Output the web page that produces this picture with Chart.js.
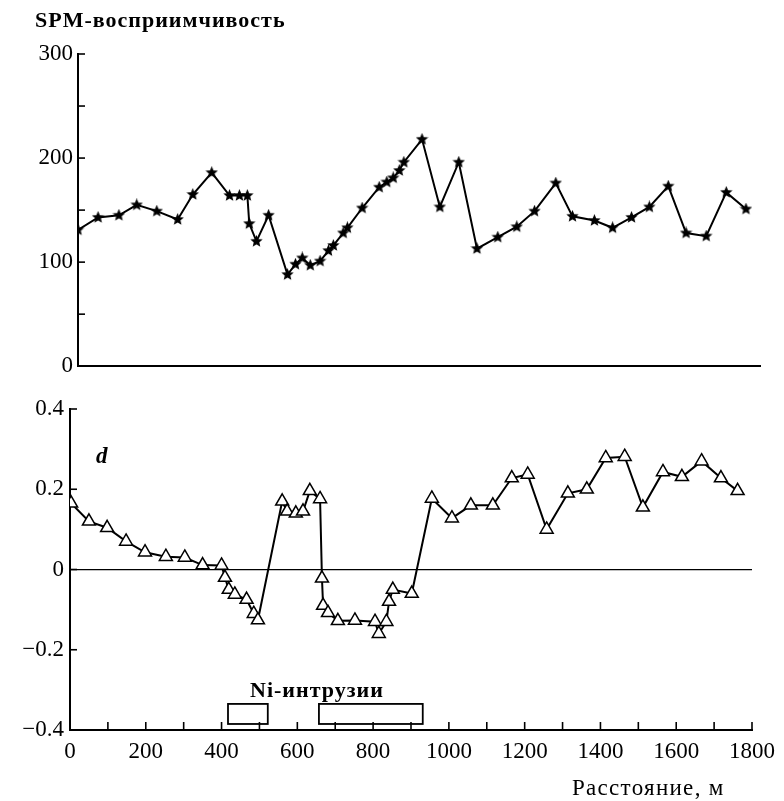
<!DOCTYPE html>
<html>
<head>
<meta charset="utf-8">
<script src="https://cdn.jsdelivr.net/npm/chart.js@4.4.1/dist/chart.umd.min.js"></script>
<style>
body { margin: 0; background: #fff; width: 784px; height: 801px; position: relative; overflow: hidden; font-family: "Liberation Serif", serif; }
#topWrap { position: absolute; left: 0; top: 0; width: 784px; height: 385px; }
#botWrap { position: absolute; left: 0; top: 385px; width: 784px; height: 416px; }
.lbl { position: absolute; color: #000; white-space: nowrap; line-height: 1; }
</style>
</head>
<body>
<div id="topWrap"><canvas id="spmChart" width="784" height="385"></canvas></div>
<div id="botWrap"><canvas id="dChart" width="784" height="416"></canvas></div>

<div class="lbl" style="left:35px; top:9px; font-size:22px; font-weight:bold; letter-spacing:1px;">SPM-восприимчивость</div>
<div class="lbl" style="left:96px; top:444px; font-size:23px; font-weight:bold; font-style:italic;">d</div>
<div class="lbl" style="left:250px; top:679px; font-size:22px; font-weight:bold; letter-spacing:1px;">Ni-интрузии</div>
<div class="lbl" style="left:572px; top:776px; font-size:23px; letter-spacing:1.3px;">Расстояние, м</div>

<script>
document.addEventListener("DOMContentLoaded", () => {

/* DATA */

const spmDist = [0, 53, 108, 155, 208, 263, 303, 353, 400, 426, 447, 452, 471, 503, 553, 574, 592, 613, 639, 661,
    674, 700, 711, 750, 795, 815, 832, 848, 860, 908, 955, 1005, 1053, 1108, 1158, 1205, 1261, 1305, 1363, 1411,
    1461, 1508, 1558, 1605, 1658, 1711, 1763];
const spmValue = [131, 143, 145, 155, 149, 141, 165, 186, 164, 164, 164, 137, 120, 145, 88, 98, 104, 97, 101, 111,
    116, 128, 133, 152, 172, 177, 181, 188, 196, 218, 153, 196, 113, 124, 134, 149, 176, 144, 140, 133,
    143, 153, 173, 128, 125, 167, 151];

const dDist = [3, 50, 98, 148, 198, 253, 303, 350, 400, 409, 419, 435, 466, 485, 496, 560, 573, 596, 615, 633,
    660, 665, 668, 681, 707, 752, 805, 815, 835, 842, 852, 902, 955, 1008, 1058, 1116, 1166, 1208, 1258, 1314,
    1364, 1414, 1464, 1512, 1565, 1615, 1667, 1718, 1762];
const dValue = [0.165, 0.12, 0.104, 0.07, 0.043, 0.032, 0.03, 0.011, 0.01, -0.02, -0.05, -0.062, -0.075, -0.11, -0.126, 0.17, 0.145, 0.14, 0.145, 0.196,
    0.176, -0.022, -0.09, -0.108, -0.128, -0.127, -0.13, -0.16, -0.13, -0.08, -0.05, -0.06, 0.177, 0.128, 0.16, 0.16, 0.228, 0.237, 0.10, 0.19,
    0.2, 0.278, 0.281, 0.155, 0.243, 0.231, 0.27, 0.228, 0.196];

/* Ni intrusions, metres along the profile */
const niStart = [417, 657];
const niEnd = [522, 931];

const spmTicks = [0, 100, 200, 300];
const dTicks = [-0.4, -0.2, 0, 0.2, 0.4];
const distTicks = [0, 200, 400, 600, 800, 1000, 1200, 1400, 1600, 1800];

Chart.defaults.font.family = '"Liberation Serif", "Times New Roman", serif';
Chart.defaults.font.size = 23;
Chart.defaults.color = "#000";

/* STAR MARKER */

function makeStar(size) {
    const c = document.createElement("canvas");
    c.width = c.height = size;
    const g = c.getContext("2d");
    const r = size / 2, ri = r * 0.45;
    g.beginPath();
    for (let i = 0; i < 10; i++) {
        const a = -Math.PI / 2 + i * Math.PI / 5;
        const rr = i % 2 ? ri : r;
        g.lineTo(r + rr * Math.cos(a), r + rr * Math.sin(a));
    }
    g.closePath();
    g.fillStyle = "#000";
    g.fill();
    return c;
}

/* PLUGINS */

// ticks pointing into the plot, like the printed figure
const inwardTicks = {
    id: "inwardTicks",
    afterDraw(chart, args, opts) {
        const ctx = chart.ctx;
        ctx.save();
        ctx.strokeStyle = "#000";
        ctx.lineWidth = 1.6;
        (opts.axes || []).forEach(a => {
            const sc = chart.scales[a.id];
            sc.ticks.forEach(t => {
                const p = sc.getPixelForValue(t.value);
                ctx.beginPath();
                if (sc.isHorizontal()) {
                    ctx.moveTo(p, sc.top);
                    ctx.lineTo(p, sc.top - a.len);
                } else {
                    ctx.moveTo(sc.right, p);
                    ctx.lineTo(sc.right + a.len, p);
                }
                ctx.stroke();
            });
        });
        ctx.restore();
    }
};

const niBoxes = {
    id: "niBoxes",
    afterDatasetsDraw(chart) {
        const x = chart.scales.x, y = chart.scales.y;
        const ctx = chart.ctx;
        ctx.save();
        ctx.strokeStyle = "#000";
        ctx.lineWidth = 1.8;
        niStart.forEach((s, i) => {
            const x0 = x.getPixelForValue(s), x1 = x.getPixelForValue(niEnd[i]);
            const y0 = y.getPixelForValue(-0.335), y1 = y.getPixelForValue(-0.385);
            ctx.strokeRect(x0, y0, x1 - x0, y1 - y0);
        });
        ctx.restore();
    }
};

/* TOP CHART */

new Chart(document.getElementById("spmChart"), {
    type: "line",
    data: {
        datasets: [{
            data: spmDist.map((d, i) => ({ x: d, y: spmValue[i] })),
            borderColor: "#000",
            borderWidth: 2,
            pointStyle: makeStar(13),
            pointRadius: 6,
            tension: 0
        }]
    },
    options: {
        responsive: false,
        animation: false,
        layout: { padding: { top: 54, right: 24, left: 0, bottom: 0 } },
        plugins: {
            legend: { display: false },
            tooltip: { enabled: false },
            inwardTicks: { axes: [{ id: "y", len: 7 }] }
        },
        scales: {
            x: {
                type: "linear", min: 0, max: 1800,
                grid: { display: false, drawTicks: false },
                border: { display: true, color: "#000", width: 2 },
                ticks: { display: false },
                afterFit: s => { s.height = 17; }
            },
            y: {
                min: 0, max: 300,
                grid: { display: false, drawTicks: false },
                border: { display: true, color: "#000", width: 2 },
                afterBuildTicks: s => { s.ticks = [0, 50, 100, 150, 200, 250, 300].map(v => ({ value: v })); },
                ticks: {
                    padding: 5,
                    autoSkip: false,
                    callback: v => spmTicks.includes(v) ? String(v) : ""
                },
                afterFit: s => { s.width = 78; }
            }
        }
    },
    plugins: [inwardTicks]
});

/* BOTTOM CHART */

new Chart(document.getElementById("dChart"), {
    type: "line",
    data: {
        datasets: [{
            data: dDist.map((d, i) => ({ x: d, y: dValue[i] })),
            borderColor: "#000",
            borderWidth: 2,
            pointStyle: "triangle",
            pointRadius: 7.5,
            pointBorderWidth: 1.5,
            pointBackgroundColor: "#fff",
            pointBorderColor: "#000",
            tension: 0
        }]
    },
    options: {
        responsive: false,
        animation: false,
        layout: { padding: { top: 24, right: 32, left: 0, bottom: 0 } },
        plugins: {
            legend: { display: false },
            tooltip: { enabled: false },
            inwardTicks: { axes: [{ id: "y", len: 7 }, { id: "x", len: 8 }] }
        },
        scales: {
            x: {
                type: "linear", min: 0, max: 1800,
                grid: { display: false, drawTicks: false },
                border: { display: true, color: "#000", width: 2 },
                afterBuildTicks: s => {
                    const t = [];
                    for (let v = 0; v <= 1800; v += 100) t.push({ value: v });
                    s.ticks = t;
                },
                ticks: {
                    padding: 8,
                    autoSkip: false,
                    maxRotation: 0,
                    callback: v => distTicks.includes(v) ? String(v) : ""
                },
                afterFit: s => { s.height = 71; }
            },
            y: {
                min: -0.4, max: 0.4,
                grid: {
                    drawTicks: false,
                    lineWidth: 1.3,
                    color: c => c.tick && Math.abs(c.tick.value) < 1e-9 ? "#000" : "rgba(0,0,0,0)"
                },
                border: { display: true, color: "#000", width: 2 },
                afterBuildTicks: s => { s.ticks = dTicks.map(v => ({ value: v })); },
                ticks: {
                    padding: 6,
                    autoSkip: false,
                    callback: v => {
                        const r = Math.round(v * 10) / 10;
                        if (r === 0) return "0";
                        return r < 0 ? "\u2212" + Math.abs(r).toFixed(1) : r.toFixed(1);
                    }
                },
                afterFit: s => { s.width = 70; }
            }
        }
    },
    plugins: [inwardTicks, niBoxes]
});

});
</script>
</body>
</html>
